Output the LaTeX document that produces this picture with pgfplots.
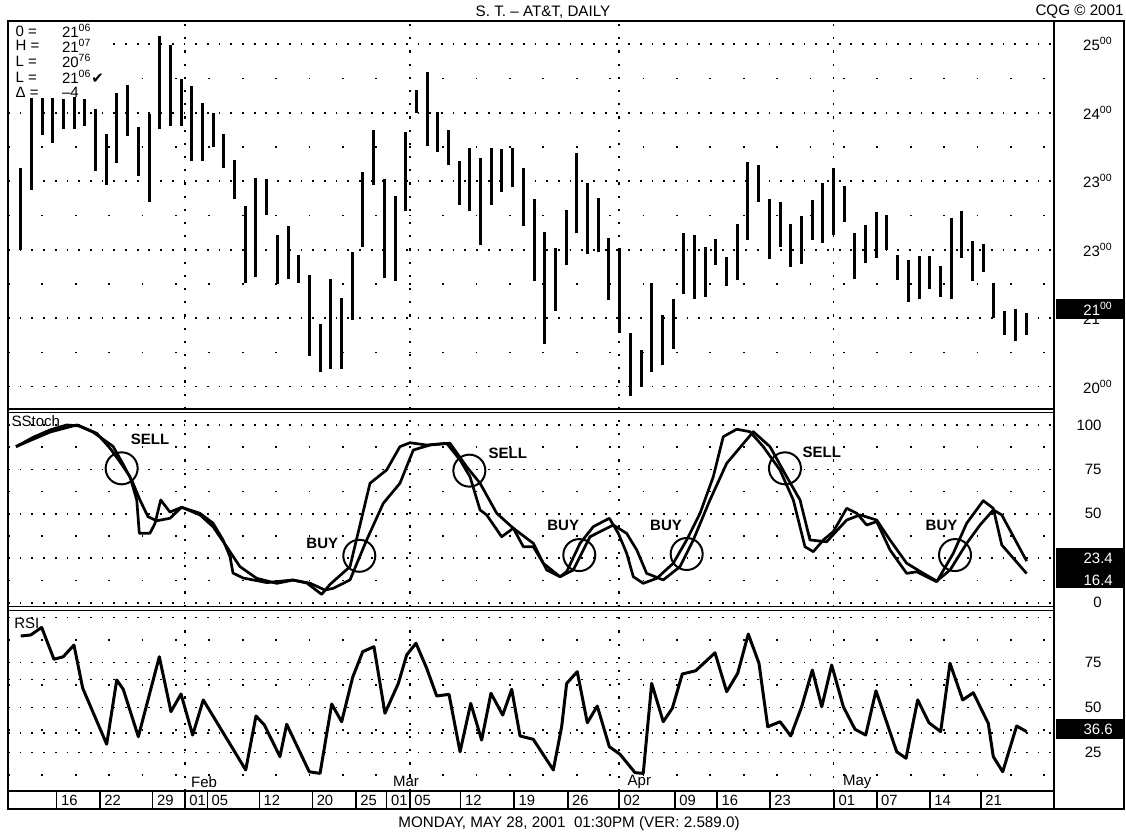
\documentclass[border=0pt]{standalone}
\usepackage{pgfplots}
\pgfplotsset{compat=1.18}
\usepackage{pgfplotstable}
\usepackage{fontspec}
\setmainfont{Liberation Sans}
\newfontfamily\symfont{DejaVu Sans}
\newcommand\f[1]{\fontsize{#1}{#1}\selectfont}

\pgfplotstableread{
i lo hi
0 21.99 23.19
1 22.87 24.22
2 23.68 24.22
3 23.56 24.22
4 23.76 24.20
5 23.76 24.23
6 23.81 24.20
7 23.15 24.05
8 22.95 23.69
9 23.26 24.29
10 23.66 24.41
11 23.08 23.79
12 22.70 23.98
13 23.77 25.12
14 23.81 24.99
15 23.80 24.49
16 23.30 24.39
17 23.29 24.14
18 23.50 23.99
19 23.19 23.69
20 22.74 23.31
21 21.51 22.64
22 21.60 23.05
23 22.51 23.03
24 21.50 22.22
25 21.57 22.35
26 21.52 21.93
27 20.45 21.63
28 20.22 20.92
29 20.26 21.57
30 20.26 21.29
31 20.98 21.97
32 22.04 23.13
33 22.94 23.75
34 21.59 23.03
35 21.54 22.79
36 22.56 23.72
37 24.00 24.33
38 23.51 24.60
39 23.42 24.01
40 23.23 23.75
41 22.65 23.30
42 22.56 23.49
43 22.07 23.34
44 22.65 23.49
45 22.85 23.47
46 22.91 23.49
47 22.34 23.20
48 21.54 22.74
49 20.62 22.26
50 21.11 22.02
51 21.77 22.58
52 22.24 23.41
53 21.94 22.97
54 21.96 22.76
55 21.27 22.17
56 20.79 22.03
57 19.87 20.78
58 20.00 20.54
59 20.21 21.51
60 20.31 21.05
61 20.55 21.28
62 21.35 22.25
63 21.28 22.22
64 21.31 22.04
65 21.77 22.16
66 21.47 21.89
67 21.56 22.38
68 22.14 23.28
69 22.70 23.23
70 21.86 22.74
71 22.04 22.69
72 21.75 22.38
73 21.79 22.49
74 22.14 22.73
75 22.10 22.97
76 22.22 23.19
77 22.41 22.93
78 21.57 22.25
79 21.80 22.36
80 21.88 22.55
81 21.99 22.51
82 21.56 21.93
83 21.24 21.85
84 21.28 21.91
85 21.42 21.91
86 21.31 21.76
87 21.28 22.47
88 21.88 22.57
89 21.54 22.13
90 21.67 22.08
91 21.01 21.51
92 20.76 21.11
93 20.67 21.14
94 20.76 21.07
}\bars

\pgfplotstableread{
x v
-0.44 87.8
1.18 93.1
2.74 97.2
4.30 100
5.54 99.4
7.11 95.3
8.35 86.9
9.28 79.3
10.22 70.9
10.85 57.8
11.09 39.1
12.09 39.1
12.56 44.7
13.09 57.8
13.96 51
15.05 53.7
16.76 50.3
17.98 44.8
18.92 35.3
19.57 25.9
19.85 16.7
20.79 13.9
23.03 11.3
25.46 12.8
26.77 11
28.14 4.7
28.92 10.3
30.79 20.3
32.66 67.2
34.22 74.7
35.46 87.8
36.40 90
37.96 88.7
39.83 89.7
41.08 80.3
42.01 70.9
42.95 52.2
43.57 49.4
44.97 37.1
46.06 41.9
47.00 31.5
47.93 31.5
48.86 22.2
50.43 14.6
51.05 17.5
52.30 33.4
53.54 42.8
55.04 47.5
55.88 39
56.66 27.8
57.28 14.6
58.21 10.9
59.47 13.7
61.02 22.2
62.27 35.3
63.52 50.3
64.76 70.9
65.69 93.4
66.95 97.6
68.19 96.2
69.43 87.8
70.99 74.7
72.24 57.8
73.33 31.5
74.11 28.7
75.05 35.3
75.98 40
77.23 53.1
78.17 50.3
79.10 43.7
80.04 45.6
81.28 29.7
82.84 16.5
83.78 17.4
85.65 11.8
87.20 27.8
88.45 44.7
90.00 57.4
90.94 53.1
91.73 32.5
94.06 16.4
}\stochK

\pgfplotstableread{
x v
-0.44 87.8
1.18 92
2.74 96
5.24 100
6.76 96
8.63 88
9.57 78
10.50 67.3
11.15 57.8
11.90 48.4
12.72 46.1
13.96 47.5
15.05 53.7
16.76 49.4
17.98 42.8
19.26 31.5
20.50 20.3
22.07 13.7
23.94 10.9
25.46 12.7
27.05 11
28.45 7.1
29.23 8.1
30.79 12.8
32.35 35.3
33.90 55.9
35.46 67.2
36.71 85.9
38.27 88.7
40.14 89.7
41.70 76.5
42.95 67.2
44.51 50.3
46.06 41.9
47.93 33.4
49.18 18.4
50.43 14.6
51.67 18.4
53.23 37.1
55.41 43.7
56.66 39
57.60 29.7
58.53 16.5
60.08 12.8
61.65 20.3
62.89 35.3
64.45 57.8
66.01 78.4
68.50 96.2
70.06 87.8
71.62 70.9
72.87 57.8
73.80 35.3
75.36 34.3
77.23 46.5
78.48 49.4
80.04 46.5
81.28 35.3
82.84 22.2
84.40 16.5
85.65 12.2
86.90 18.4
88.45 33.4
89.70 43.7
90.94 52.2
91.73 49.4
94.06 23.4
}\stochD

\pgfplotstableread{
x v
0 89.7
0.94 90.3
1.96 94.5
3.11 76.8
3.98 78.2
4.98 84.7
5.80 60.7
8.04 29.6
8.98 65.3
9.59 60.1
11.00 33.8
12.96 78.2
14.05 47.7
14.99 57.5
16.08 34.7
17.07 54.2
21.04 15.3
22.00 45.3
22.78 40.3
24.24 22.7
24.87 40.7
26.98 14.3
27.99 13.4
29.08 51.9
30.01 42.1
31.04 66.8
31.98 81
33.03 83.8
34.06 46.8
35.31 63.4
36.09 79.2
36.96 85.7
37.96 71.8
38.90 56.4
40.05 57.3
41.08 25.4
42.08 52.3
43.10 31.9
43.97 57.9
45.07 45.8
45.91 60.1
46.69 34.2
47.93 32.3
49.80 15.3
50.58 39.3
51.05 63.4
52.04 69.9
52.98 41.5
53.91 50.8
55.04 28.2
56.04 24
57.44 13.8
58.21 13.4
59.00 63.4
60.08 42.1
60.93 49.6
61.86 68.6
63.11 70.4
64.92 80.4
66.01 58.8
67.04 69
68.03 90.8
69.03 74.6
69.85 39.3
71.00 42.1
72.00 34.2
73.02 50.4
74.02 70.8
74.90 50.4
75.83 73.6
76.92 50.4
78.01 37.9
79.01 34.7
79.97 59.3
81.91 25.4
82.78 21.8
83.87 54.2
84.93 41.5
86.02 36.6
86.89 74.6
88.08 54.2
89.07 58.2
90.47 41.2
90.94 22.7
91.82 14.3
93.12 39.7
94.06 36.6
}\rsi

\pgfplotsset{
  panel/.style={
    scale only axis, width=523pt, anchor=north west,
    xmin=-1.1875, xmax=96.615,
    axis line style={line width=0.6pt},
    xtick={15.36,36.40,55.97,75.98}, xticklabels={},
    major tick length=0pt, minor tick length=0pt,
    xmajorgrids, ymajorgrids, yminorgrids,
    major x grid style={line width=0.8pt, black, dash pattern=on 1.1pt off 5.5pt},
    major y grid style={line width=0.8pt, black, dash pattern=on 0.9pt off 4.95pt},
    minor y grid style={line width=0.8pt, black, dash pattern=on 0.9pt off 15.8pt},
    yticklabel pos=right,
    yticklabel style={anchor=east, inner sep=0pt, font=\f{7.5}},
  }
}

\begin{document}
\begin{tikzpicture}
\useasboundingbox (0,0) rectangle (563pt,-417pt);

% price panel
\begin{axis}[panel, at={(4pt,-10.5pt)}, height=194pt,
  ymin=19.674, ymax=25.340,
  ytick={20,21,22,23,24,25},
  yticklabels={20\textsuperscript{00},21\textsuperscript{00},23\textsuperscript{00},23\textsuperscript{00},24\textsuperscript{00},25\textsuperscript{00}},
  minor ytick={20.5,21.5,22.5,23.5,24.5},
  yticklabel style={xshift=29.5pt}]
\addplot[draw=none, mark=none,
  error bars/.cd, y dir=plus, y explicit, error mark=none,
  error bar style={draw=black, solid, line width=1.5pt}]
  table[x=i, y=lo, y error expr=\thisrow{hi}-\thisrow{lo}] {\bars};
\end{axis}

% stochastic panel
\begin{axis}[panel, at={(4pt,-206.35pt)}, height=97pt,
  ymin=-2.25, ymax=106.9,
  ytick={0,50,100}, yticklabels={0,50,100},
  minor ytick={12.5,37.5,62.5,87.5},
  extra y ticks={25,75}, extra y tick labels={,75},
  extra y tick style={grid=major, major grid style={solid, line width=0.7pt, black}},
  yticklabel style={xshift=24pt}]
\addplot[black, line width=1.35pt, line join=round] table[x=x, y=v] {\stochK};
\addplot[black, line width=1.35pt, line join=round] table[x=x, y=v] {\stochD};
\begin{scope}[line width=1pt]
\draw (axis cs:9.44,75.6) circle[radius=8pt];
\draw (axis cs:31.66,26.4) circle[radius=8pt];
\draw (axis cs:41.95,74.3) circle[radius=8pt];
\draw (axis cs:52.23,26.8) circle[radius=8pt];
\draw (axis cs:62.27,27.4) circle[radius=8pt];
\draw (axis cs:71.46,75.6) circle[radius=8pt];
\draw (axis cs:87.36,26.8) circle[radius=8pt];
\end{scope}
\begin{scope}[every node/.style={font=\bfseries\f{7.5}, inner sep=0pt}]
\node at (axis cs:12.09,92) {SELL};
\node at (axis cs:28.2,33.4) {BUY};
\node at (axis cs:45.54,84.1) {SELL};
\node at (axis cs:50.73,43.3) {BUY};
\node at (axis cs:60.34,43.3) {BUY};
\node at (axis cs:74.9,84.4) {SELL};
\node at (axis cs:86.1,43.3) {BUY};
\end{scope}
\end{axis}

% RSI panel
\begin{axis}[panel, at={(4pt,-305.35pt)}, height=90.15pt,
  ymin=3.61, ymax=103.78,
  ytick={25,50,75,100}, yticklabels={25,50,75,{}},
  minor ytick={12.5,37.5,62.5,87.5},
  extra y ticks={36,65.5}, extra y tick labels={},
  extra y tick style={grid=major, major grid style={line width=0.8pt, black, dash pattern=on 3.5pt off 2.5pt}},
  yticklabel style={xshift=24pt}]
\addplot[black, line width=1.5pt, line join=round] table[x=x, y=v] {\rsi};
\end{axis}

% date row
\begin{axis}[scale only axis, at={(4pt,-395.5pt)}, anchor=north west,
  width=523pt, height=9pt, xmin=-1.1875, xmax=96.615, ymin=0, ymax=1,
  ytick=\empty, axis line style={line width=0.8pt},
  xtick={3.366,7.415,12.34,15.36,17.45,22.31,27.27,31.35,34.22,36.40,41.14,46.15,51.15,55.97,61.18,65.13,70.06,76.07,80.04,85.02,89.79},
  xticklabels={16,22,29,01,05,12,20,25,01,05,12,19,26,02,09,16,23,01,07,14,21},
  xtick pos=bottom, tick align=inside, major tick length=9pt,
  xtick style={line width=0.8pt, black},
  xticklabel style={anchor=west, xshift=2pt, yshift=4.5pt, inner sep=0pt, font=\f{7.4}}]
\end{axis}

% info box
\fill[white] (4.7pt,-11.2pt) rectangle (56.5pt,-48pt);
\begin{scope}[every node/.style={anchor=west, inner sep=0pt, font=\f{7.5}}]
\node at (7.6pt,-15.5pt) {0 =};
\node at (7.6pt,-22.75pt) {H =};
\node at (7.6pt,-30.5pt) {L =};
\node at (7.6pt,-38.5pt) {L =};
\node at (7.6pt,-46.4pt) {Δ =};
\node at (30.8pt,-15.5pt) {21\textsuperscript{06}};
\node at (30.8pt,-22.75pt) {21\textsuperscript{07}};
\node at (30.8pt,-30.5pt) {20\textsuperscript{76}};
\node at (30.8pt,-38.5pt) {21\textsuperscript{06}{\symfont\bfseries ✔}};
\node at (30.8pt,-46.4pt) {–4};
\end{scope}

% panel labels
\node[anchor=west, inner sep=0pt, font=\f{7.5}] at (5.6pt,-210.5pt) {SStoch};
\node[anchor=west, inner sep=0pt, font=\f{7.5}] at (7pt,-311.5pt) {RSI};

% month labels
\begin{scope}[every node/.style={anchor=west, inner sep=0pt, font=\f{7.5}}]
\node at (95.35pt,-390.85pt) {Feb};
\node at (196.35pt,-390.85pt) {Mar};
\node at (313.65pt,-390.85pt) {Apr};
\node at (421.35pt,-390.85pt) {May};
\end{scope}

% last value boxes
\fill (528pt,-149.5pt) rectangle (562pt,-159.5pt);
\node[white, anchor=east, inner sep=0pt, font=\f{7.5}] at (556.6pt,-154.5pt) {21\textsuperscript{00}};
\fill (528pt,-274.2pt) rectangle (562pt,-294.2pt);
\node[white, anchor=east, inner sep=0pt, font=\f{7.5}] at (556.6pt,-279.2pt) {23.4};
\node[white, anchor=east, inner sep=0pt, font=\f{7.5}] at (556.6pt,-290pt) {16.4};
\fill (528pt,-359.5pt) rectangle (562pt,-369.5pt);
\node[white, anchor=east, inner sep=0pt, font=\f{7.5}] at (556.6pt,-364.6pt) {36.6};

% frame
\draw[line width=0.8pt] (527pt,-10.5pt) -- (527pt,-395.5pt);
\draw[line width=1.2pt] (4pt,-10.5pt) rectangle (562pt,-404.5pt);

% titles
\node[inner sep=0pt, font=\f{7.6}] at (271.5pt,-5.85pt) {S. T. – AT\&T, DAILY};
\node[anchor=east, inner sep=0pt, font=\f{7.6}] at (562pt,-6pt) {CQG © 2001};
\node[inner sep=0pt, font=\f{7.6}] at (284.5pt,-412pt) {MONDAY, MAY 28, 2001\ \ 01:30PM (VER: 2.589.0)};
\end{tikzpicture}
\end{document}
